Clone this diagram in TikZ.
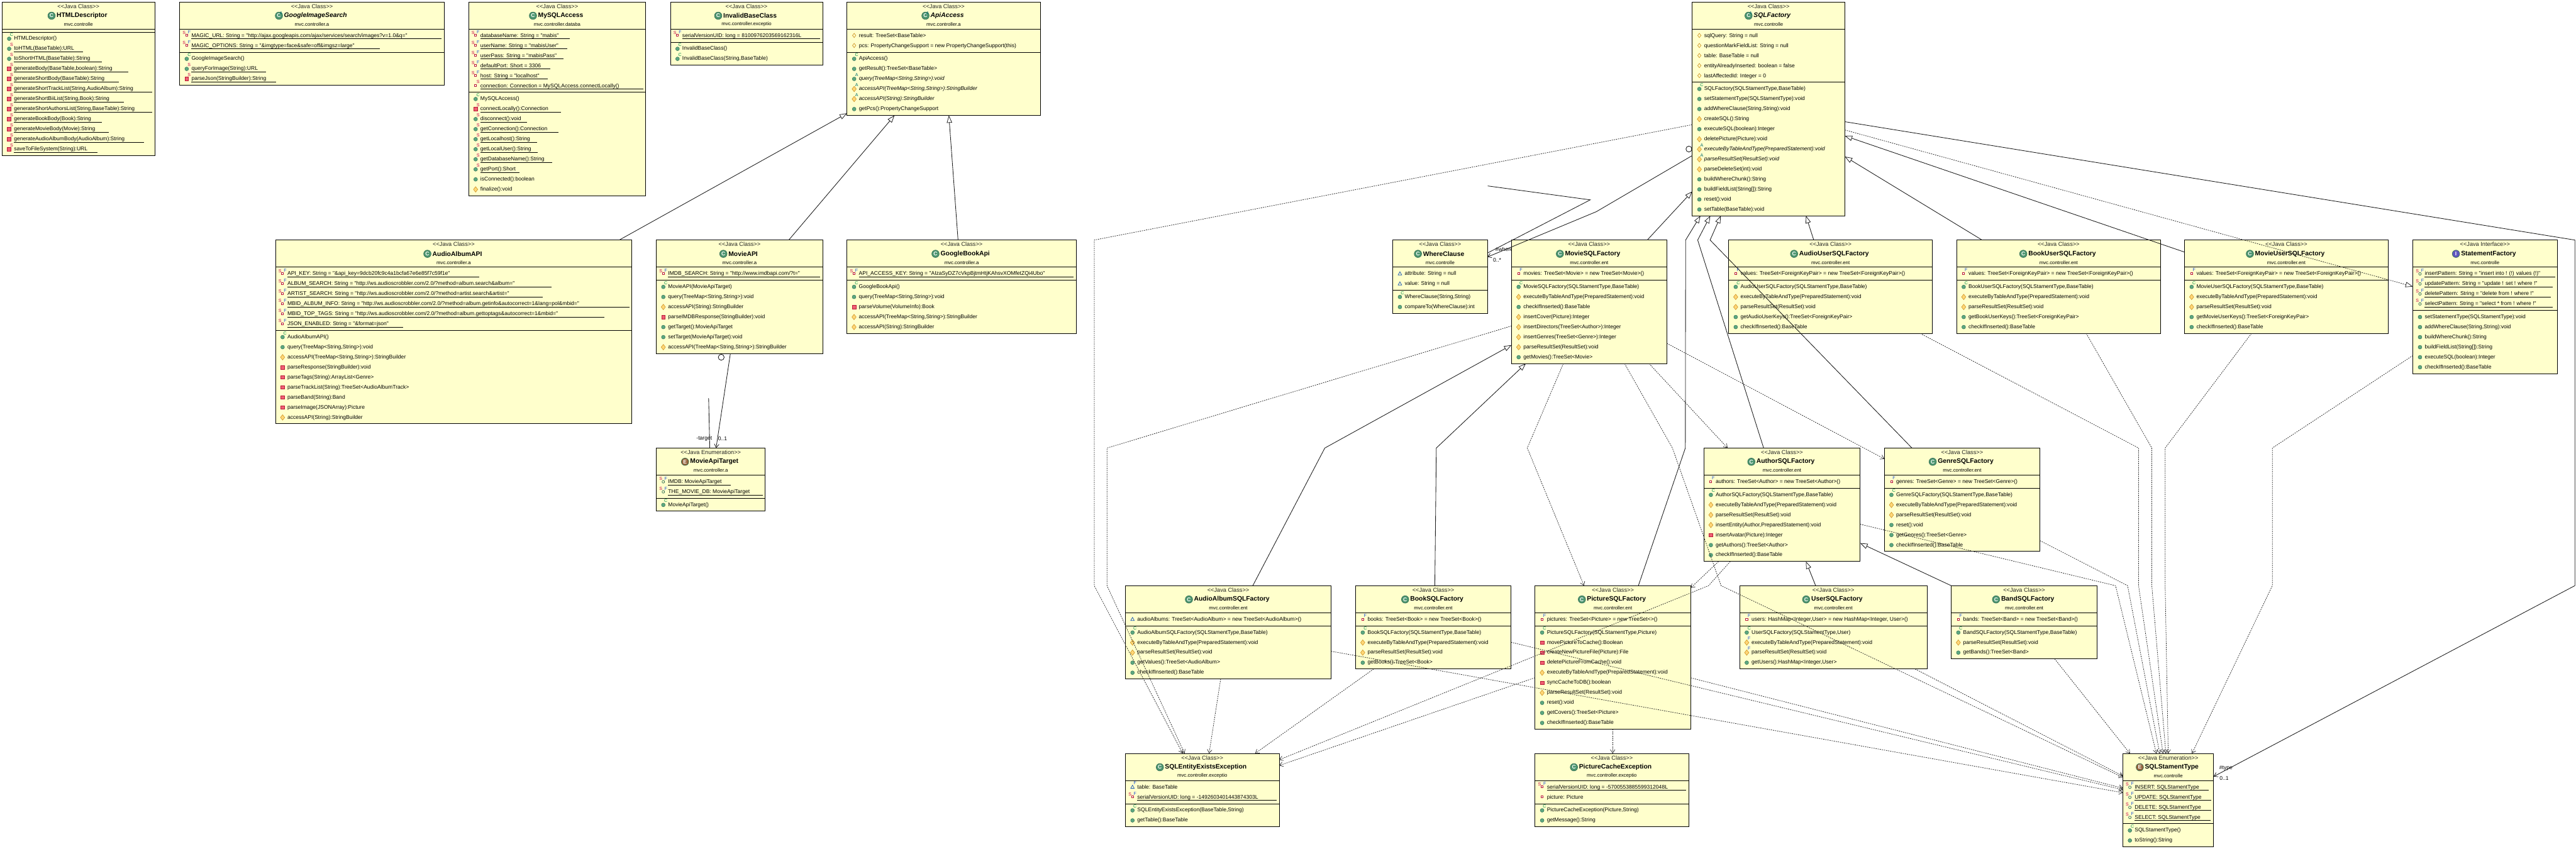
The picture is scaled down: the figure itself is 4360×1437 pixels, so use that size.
\documentclass[tikz,border=0pt]{standalone}
\usepackage{fontspec}
\newfontfamily\umlf{Liberation Sans}
\usetikzlibrary{arrows.meta}
\definecolor{ubg}{RGB}{255,255,204}
\definecolor{icgreen}{RGB}{78,150,112}
\definecolor{icgreenD}{RGB}{50,110,85}
\definecolor{icbrown}{RGB}{150,100,60}
\definecolor{icblue}{RGB}{95,85,190}
\definecolor{pubfill}{RGB}{92,168,128}
\definecolor{profill}{RGB}{255,215,120}
\definecolor{proline}{RGB}{205,145,30}
\definecolor{prifill}{RGB}{240,95,115}
\definecolor{priline}{RGB}{185,25,55}
\definecolor{pkline}{RGB}{30,90,180}
\definecolor{supS}{RGB}{200,0,70}
\definecolor{supF}{RGB}{30,80,210}
\definecolor{supC}{RGB}{0,140,70}
\definecolor{supA}{RGB}{0,110,110}
\tikzset{
  ubox/.style={draw=black,fill=ubg,line width=.9pt,inner sep=0pt,outer sep=0pt,anchor=north west},
  usec/.style={draw=black,line width=.9pt},
  ustereo/.style={inner sep=0pt,text=black!85,font=\umlf\fontsize{9.8}{11}\selectfont},
  utitle/.style={inner sep=0pt,font=\umlf\bfseries\fontsize{11}{12}\selectfont},
  upkg/.style={inner sep=0pt,font=\umlf\fontsize{8.3}{10}\selectfont},
  uicon/.style={circle,draw=icgreenD,line width=.7pt,inner sep=0pt,minimum size=12.5pt,text=white,font=\umlf\bfseries\fontsize{9}{9}\selectfont},
  rowtxt/.style={anchor=base west,inner sep=0pt,font=\umlf\fontsize{9.1}{10}\selectfont},
  supl/.style={inner sep=0pt,font=\umlf\fontsize{7.5}{8}\selectfont},
  lbl/.style={inner sep=0pt,font=\umlf\fontsize{9.1}{10}\selectfont},
  uline/.style={draw=black,line width=.9pt},
  gen/.style={draw=black!90,line width=.9pt,-{Triangle[open,length=12.5pt,width=9pt,line width=.8pt]}},
  genplain/.style={draw=black!90,line width=.9pt},
  dep/.style={draw=black!85,line width=.8pt,dash pattern=on 2pt off 1.6pt,-{Straight Barb[length=6pt,width=8pt,line width=.7pt]}},
  depr/.style={draw=black!85,line width=.8pt,dash pattern=on 2pt off 1.6pt,-{Triangle[open,length=12.5pt,width=9pt,line width=.8pt]}},
  assoc/.style={draw=black!90,line width=.9pt,-{Straight Barb[length=6pt,width=8pt,line width=.8pt]}},
  oball/.style={circle,draw=black,line width=.8pt,minimum size=10pt,inner sep=0pt}
}
\newcounter{rw}
% kinds of class
\newcommand\kdc{\def\uSt{<{}<Java Class>{}>}\def\uIcL{C}\def\uIcC{icgreen}\def\uTf{}\def\uAbs{0}}
\newcommand\kda{\def\uSt{<{}<Java Class>{}>}\def\uIcL{C}\def\uIcC{icgreen}\def\uTf{\itshape}\def\uAbs{1}}
\newcommand\kde{\def\uSt{<{}<Java Enumeration>{}>}\def\uIcL{E}\def\uIcC{icbrown}\def\uTf{}\def\uAbs{0}}
\newcommand\kdi{\def\uSt{<{}<Java Interface>{}>}\def\uIcL{I}\def\uIcC{icblue}\def\uTf{}\def\uAbs{0}}
% name x1 x2 top na nm kind title pkg
\newcommand\uclass[9]{%
  \csname kd#7\endcsname
  \pgfmathsetmacro\uHh{46+17*#5+5+17*#6+5}%
  \pgfmathsetmacro\uWw{#3-#2}%
  \pgfmathsetmacro\uCx{(#2+#3)/2}%
  \pgfmathsetmacro\uX{#2}%
  \pgfmathsetmacro\uY{#4+56.7}%
  \pgfmathsetmacro\uMY{#4+46+17*#5+5+10.7}%
  \pgfmathsetmacro\uSa{#4+46}%
  \pgfmathsetmacro\uSb{#4+46+17*#5+5}%
  \node[ubox,minimum width=\uWw pt,minimum height=\uHh pt] (#1) at (#2,#4) {};
  \draw[usec] (#1.west |- 0,\uSa) -- (#1.east |- 0,\uSa);
  \draw[usec] (#1.west |- 0,\uSb) -- (#1.east |- 0,\uSb);
  \node[ustereo] (#1st) at (\uCx,#4+7.4) {\uSt};
  \node[utitle] (#1ti) at (\uCx+6,#4+23.3) {\uTf #8};
  \node[uicon,fill=\uIcC] (#1ic) at ([xshift=-8.5pt]#1ti.west) {\uIcL};
  \ifnum\uAbs=1 \node[supl,text=supA] (#1ab) at ([xshift=-1pt,yshift=-1pt]#1ic.north east) {A};\fi
  \node[upkg] (#1pk) at (\uCx,#4+38) {#9};
}
\newcommand\msec{\let\uY\uMY}
\newcommand\nxt{\pgfmathsetmacro\uY{\uY+17}}
\newcommand\upS[2]{\node[supl,text=#1] (rw\arabic{rw}u) at (\uX+16.2,\uY-6.2) {#2};}
\newcommand\fS{\node[supl,text=supS] (rw\arabic{rw}s) at (\uX+7.6,\uY-4.6) {S};}
\newcommand\fF{\node[supl,text=supF] (rw\arabic{rw}f) at (\uX+16.4,\uY-5.2) {F};}
% icons
\newcommand\iCirc{\filldraw[fill=pubfill,draw=icgreenD,line width=.5pt] (\uX+12,\uY+.6) circle[radius=3.2pt];}
\newcommand\iDiam{\filldraw[fill=profill,draw=proline,line width=.6pt] (\uX+12,\uY+.6) ++(0,-4.6) -- ++(3.6,4.6) -- ++(-3.6,4.6) -- ++(-3.6,-4.6) -- cycle;}
\newcommand\iSq{\filldraw[fill=prifill,draw=priline,line width=.6pt] (\uX+9,\uY-2.4) rectangle (\uX+15,\uY+3.6);}
\newcommand\iSmSq{\filldraw[fill=white,draw=priline,line width=.9pt] (\uX+10.4,\uY-1.6) rectangle (\uX+13.6,\uY+1.6);}
\newcommand\iSmDiam{\filldraw[fill=ubg,draw=proline,line width=.7pt] (\uX+12,\uY) ++(0,-3.6) -- ++(2.8,3.6) -- ++(-2.8,3.6) -- ++(-2.8,-3.6) -- cycle;}
\newcommand\iTri{\filldraw[fill=ubg,draw=pkline,line width=.8pt] (\uX+12,\uY-3) -- (\uX+15,\uY+2.4) -- (\uX+9,\uY+2.4) -- cycle;}
\newcommand\iSmCirc{\filldraw[fill=ubg,draw=icgreenD,line width=.8pt] (\uX+12,\uY+.5) circle[radius=2.2pt];}
\newcommand\icpub{\iCirc}
\newcommand\icspub{\iCirc\upS{supS}{S}}
\newcommand\iccons{\iCirc\upS{supC}{C}}
\newcommand\icapub{\iCirc\upS{supA}{A}}
\newcommand\icpro{\iDiam}
\newcommand\icapro{\iDiam\upS{supA}{A}}
\newcommand\icproF{\iDiam\upS{supF}{F}}
\newcommand\icpri{\iSq}
\newcommand\icspri{\iSq\upS{supS}{S}}
\newcommand\icfpro{\iSmDiam}
\newcommand\icfpk{\iTri}
\newcommand\icfpkF{\iTri\upS{supF}{F}}
\newcommand\icfpri{\iSmSq}
\newcommand\icfprF{\iSmSq\upS{supF}{F}}
\newcommand\icfsF{\iSmSq\fS\fF}
\newcommand\icfpriS{\iSmSq\upS{supS}{S}}
\newcommand\icfgsF{\iSmCirc\fS\fF}
\newcommand\urow[2]{%
  \stepcounter{rw}%
  \csname ic#1\endcsname
  \node[rowtxt] (rw\arabic{rw}) at (\uX+20,\uY+3) {#2};
  \nxt}
\newcommand\uurow[3]{%
  \draw[uline] (\uX+20,\uY+5.7) -- (#1,\uY+5.7);
  \urow{#2}{#3}}
\begin{document}
\begin{tikzpicture}[x=1pt,y=-1pt]
\useasboundingbox (0,0) rectangle (4360,1437);
\fill[white] (0,0) rectangle (4360,1437);
\node[lbl,anchor=west] (lwhere) at (2531,422) {\#where};

\uclass{hd}{3.5}{262}{3.3}{0}{12}{c}{HTMLDescriptor}{mvc.controlle}
\msec
\urow{cons}{HTMLDescriptor()}
\uurow{140}{spub}{toHTML(BaseTable):URL}
\uurow{172.6}{spub}{toShortHTML(BaseTable):String}
\uurow{217.5}{spri}{generateBody(BaseTable,boolean):String}
\uurow{201}{spri}{generateShortBody(BaseTable):String}
\uurow{258}{spri}{generateShortTrackList(String,AudioAlbum):String}
\uurow{209.7}{spri}{generateShortBiiList(String,Book):String}
\uurow{258}{spri}{generateShortAuthorsList(String,BaseTable):String}
\uurow{172}{spri}{generateBookBody(Book):String}
\uurow{183.8}{spri}{generateMovieBody(Movie):String}
\uurow{243.4}{spri}{generateAudioAlbumBody(AudioAlbum):String}
\uurow{164.9}{spri}{saveToFileSystem(String):URL}

\uclass{gi}{304}{752}{3.3}{2}{3}{a}{GoogleImageSearch}{mvc.controller.a}
\uurow{747}{fsF}{MAGIC\_URL: String = "http://ajax.googleapis.com/ajax/services/search/images?v=1.0\&q="}
\uurow{643}{fsF}{MAGIC\_OPTIONS: String = "\&imgtype=face\&safe=off\&imgsz=large"}
\msec
\urow{cons}{GoogleImageSearch()}
\uurow{450.4}{spub}{queryForImage(String):URL}
\uurow{467.2}{spri}{parseJson(StringBuilder):String}

\uclass{my}{793}{1093}{3.3}{6}{10}{c}{MySQLAccess}{mvc.controller.databa}
\uurow{964.6}{fsF}{databaseName: String = "mabis"}
\uurow{960.4}{fsF}{userName: String = "mabisUser"}
\uurow{954}{fsF}{userPass: String = "mabisPass"}
\uurow{931}{fsF}{defaultPort: Short = 3306}
\uurow{927.4}{fsF}{host: String = "localhost"}
\uurow{1089.4}{fpriS}{connection: Connection = MySQLAccess.connectLocally()}
\msec
\urow{cons}{MySQLAccess()}
\uurow{949}{spri}{connectLocally():Connection}
\uurow{892.3}{spub}{disconnect():void}
\uurow{945}{spub}{getConnection():Connection}
\uurow{909}{spub}{getLocalhost():String}
\uurow{910.6}{spub}{getLocalUser():String}
\uurow{935}{spub}{getDatabaseName():String}
\uurow{879.7}{spub}{getPort():Short}
\urow{pub}{isConnected():boolean}
\urow{pro}{finalize():void}

\uclass{ib}{1134.7}{1392.3}{3.3}{1}{2}{c}{InvalidBaseClass}{mvc.controller.exceptio}
\uurow{1388.3}{fsF}{serialVersionUID: long = 8100976203569162316L}
\msec
\urow{cons}{InvalidBaseClass()}
\urow{cons}{InvalidBaseClass(String,BaseTable)}

\uclass{ap}{1433.7}{1760.7}{3.3}{2}{6}{a}{ApiAccess}{mvc.controller.a}
\urow{fpro}{result: TreeSet<BaseTable>}
\urow{fpro}{pcs: PropertyChangeSupport = new PropertyChangeSupport(this)}
\msec
\urow{cons}{ApiAccess()}
\urow{pub}{getResult():TreeSet<BaseTable>}
\urow{apub}{\itshape query(TreeMap<String,String>):void}
\urow{apro}{\itshape accessAPI(TreeMap<String,String>):StringBuilder}
\urow{apro}{\itshape accessAPI(String):StringBuilder}
\urow{pub}{getPcs():PropertyChangeSupport}

\uclass{aa}{466.3}{1069.5}{406.3}{6}{9}{c}{AudioAlbumAPI}{mvc.controller.a}
\uurow{811.4}{fsF}{API\_KEY: String = "\&api\_key=9dcb20fc9c4a1bcfa67e6e85f7c59f1e"}
\uurow{933.7}{fsF}{ALBUM\_SEARCH: String = "http://ws.audioscrobbler.com/2.0/?method=album.search\&album="}
\uurow{919}{fsF}{ARTIST\_SEARCH: String = "http://ws.audioscrobbler.com/2.0/?method=artist.search\&artist="}
\uurow{1065.4}{fsF}{MBID\_ALBUM\_INFO: String = "http://ws.audioscrobbler.com/2.0/?method=album.getinfo\&autocorrect=1\&lang=pol\&mbid="}
\uurow{1022.6}{fsF}{MBID\_TOP\_TAGS: String = "http://ws.audioscrobbler.com/2.0/?method=album.gettoptags\&autocorrect=1\&mbid="}
\uurow{682.4}{fsF}{JSON\_ENABLED: String = "\&format=json"}
\msec
\urow{cons}{AudioAlbumAPI()}
\urow{pub}{query(TreeMap<String,String>):void}
\urow{pro}{accessAPI(TreeMap<String,String>):StringBuilder}
\urow{pri}{parseResponse(StringBuilder):void}
\urow{pri}{parseTags(String):ArrayList<Genre>}
\urow{pri}{parseTrackList(String):TreeSet<AudioAlbumTrack>}
\urow{pri}{parseBand(String):Band}
\urow{pri}{parseImage(JSONArray):Picture}
\urow{pro}{accessAPI(String):StringBuilder}

\uclass{ma}{1110.7}{1392.8}{406.3}{1}{7}{c}{MovieAPI}{mvc.controller.a}
\uurow{1388.4}{fsF}{IMDB\_SEARCH: String = "http://www.imdbapi.com/?t="}
\msec
\urow{cons}{MovieAPI(MovieApiTarget)}
\urow{pub}{query(TreeMap<String,String>):void}
\urow{pro}{accessAPI(String):StringBuilder}
\urow{pri}{parseIMDBResponse(StringBuilder):void}
\urow{pub}{getTarget():MovieApiTarget}
\urow{pub}{setTarget(MovieApiTarget):void}
\urow{pro}{accessAPI(TreeMap<String,String>):StringBuilder}

\uclass{gb}{1433.5}{1821.7}{406.3}{1}{5}{c}{GoogleBookApi}{mvc.controller.a}
\uurow{1817.3}{fsF}{API\_ACCESS\_KEY: String = "AIzaSyDZ7cVkpBjtmHtjKAhsvXOMfetZQi4Ubo"}
\msec
\urow{cons}{GoogleBookApi()}
\urow{pub}{query(TreeMap<String,String>):void}
\urow{pri}{parseVolume(VolumeInfo):Book}
\urow{pro}{accessAPI(TreeMap<String,String>):StringBuilder}
\urow{pro}{accessAPI(String):StringBuilder}

\uclass{mt}{1110.7}{1295.3}{758.3}{2}{1}{e}{MovieApiTarget}{mvc.controller.a}
\uurow{1236.7}{fgsF}{IMDB: MovieApiTarget}
\uurow{1291.5}{fgsF}{THE\_MOVIE\_DB: MovieApiTarget}
\msec
\urow{cons}{MovieApiTarget()}

\uclass{sf}{2864.2}{3122.5}{3.3}{5}{13}{a}{SQLFactory}{mvc.controlle}
\urow{fpro}{sqlQuery: String = null}
\urow{fpro}{questionMarkFieldList: String = null}
\urow{fpro}{table: BaseTable = null}
\urow{fpro}{entityAlreadyInserted: boolean = false}
\urow{fpro}{lastAffectedId: Integer = 0}
\msec
\urow{cons}{SQLFactory(SQLStamentType,BaseTable)}
\urow{pub}{setStatementType(SQLStamentType):void}
\urow{pub}{addWhereClause(String,String):void}
\urow{pro}{createSQL():String}
\urow{pub}{executeSQL(boolean):Integer}
\urow{pro}{deletePicture(Picture):void}
\urow{apro}{\itshape executeByTableAndType(PreparedStatement):void}
\urow{apro}{\itshape parseResultSet(ResultSet):void}
\urow{pro}{parseDeleteSet(int):void}
\urow{pub}{buildWhereChunk():String}
\urow{pub}{buildFieldList(String[]):String}
\urow{pub}{reset():void}
\urow{pub}{setTable(BaseTable):void}

\uclass{wc}{2357.4}{2517.5}{406.3}{2}{2}{c}{WhereClause}{mvc.controlle}
\urow{fpk}{attribute: String = null}
\urow{fpk}{value: String = null}
\msec
\urow{cons}{WhereClause(String,String)}
\urow{pub}{compareTo(WhereClause):int}

\uclass{ms}{2558.3}{2821}{406.3}{1}{8}{c}{MovieSQLFactory}{mvc.controller.ent}
\urow{fprF}{movies: TreeSet<Movie> = new TreeSet<Movie>()}
\msec
\urow{cons}{MovieSQLFactory(SQLStamentType,BaseTable)}
\urow{pro}{executeByTableAndType(PreparedStatement):void}
\urow{pub}{checkIfInserted():BaseTable}
\urow{pro}{insertCover(Picture):Integer}
\urow{pro}{insertDirectors(TreeSet<Author>):Integer}
\urow{pro}{insertGenres(TreeSet<Genre>):Integer}
\urow{pro}{parseResultSet(ResultSet):void}
\urow{pub}{getMovies():TreeSet<Movie>}

\uclass{au}{2925.7}{3270.7}{406.3}{1}{5}{c}{AudioUserSQLFactory}{mvc.controller.ent}
\urow{fprF}{values: TreeSet<ForeignKeyPair> = new TreeSet<ForeignKeyPair>()}
\msec
\urow{cons}{AudioUserSQLFactory(SQLStamentType,BaseTable)}
\urow{pro}{executeByTableAndType(PreparedStatement):void}
\urow{pro}{parseResultSet(ResultSet):void}
\urow{pub}{getAudioUserKeys():TreeSet<ForeignKeyPair>}
\urow{pub}{checkIfInserted():BaseTable}

\uclass{bu}{3311.6}{3657}{406.3}{1}{5}{c}{BookUserSQLFactory}{mvc.controller.ent}
\urow{fprF}{values: TreeSet<ForeignKeyPair> = new TreeSet<ForeignKeyPair>()}
\msec
\urow{cons}{BookUserSQLFactory(SQLStamentType,BaseTable)}
\urow{pro}{executeByTableAndType(PreparedStatement):void}
\urow{pro}{parseResultSet(ResultSet):void}
\urow{pub}{getBookUserKeys():TreeSet<ForeignKeyPair>}
\urow{pub}{checkIfInserted():BaseTable}

\uclass{mu}{3697.4}{4042}{406.3}{1}{5}{c}{MovieUserSQLFactory}{mvc.controller.ent}
\urow{fprF}{values: TreeSet<ForeignKeyPair> = new TreeSet<ForeignKeyPair>()}
\msec
\urow{cons}{MovieUserSQLFactory(SQLStamentType,BaseTable)}
\urow{pro}{executeByTableAndType(PreparedStatement):void}
\urow{pro}{parseResultSet(ResultSet):void}
\urow{pub}{getMovieUserKeys():TreeSet<ForeignKeyPair>}
\urow{pub}{checkIfInserted():BaseTable}

\uclass{st}{4083.9}{4328}{406.3}{4}{6}{i}{StatementFactory}{mvc.controlle}
\uurow{4324.6}{fgsF}{insertPattern: String = "insert into ! (!) values (!)"}
\uurow{4321}{fgsF}{updatePattern: String = "update ! set ! where !"}
\uurow{4317.5}{fgsF}{deletePattern: String = "delete from ! where !"}
\uurow{4320.4}{fgsF}{selectPattern: String = "select * from ! where !"}
\msec
\urow{pub}{setStatementType(SQLStamentType):void}
\urow{pub}{addWhereClause(String,String):void}
\urow{pub}{buildWhereChunk():String}
\urow{pub}{buildFieldList(String[]):String}
\urow{pub}{executeSQL(boolean):Integer}
\urow{pub}{checkIfInserted():BaseTable}

\uclass{as}{2883.7}{3148.5}{758.3}{1}{7}{c}{AuthorSQLFactory}{mvc.controller.ent}
\urow{fprF}{authors: TreeSet<Author> = new TreeSet<Author>()}
\msec
\urow{cons}{AuthorSQLFactory(SQLStamentType,BaseTable)}
\urow{pro}{executeByTableAndType(PreparedStatement):void}
\urow{pro}{parseResultSet(ResultSet):void}
\urow{pro}{insertEntity(Author,PreparedStatement):void}
\urow{pri}{insertAvatar(Picture):Integer}
\urow{pub}{getAuthors():TreeSet<Author>}
\urow{pub}{checkIfInserted():BaseTable}

\uclass{ge}{3189.3}{3452.6}{758.3}{1}{6}{c}{GenreSQLFactory}{mvc.controller.ent}
\urow{fprF}{genres: TreeSet<Genre> = new TreeSet<Genre>()}
\msec
\urow{cons}{GenreSQLFactory(SQLStamentType,BaseTable)}
\urow{pro}{executeByTableAndType(PreparedStatement):void}
\urow{pro}{parseResultSet(ResultSet):void}
\urow{pub}{reset():void}
\urow{pub}{getGenres():TreeSet<Genre>}
\urow{pub}{checkIfInserted():BaseTable}

\uclass{ab}{1904.8}{2253}{991.3}{1}{5}{c}{AudioAlbumSQLFactory}{mvc.controller.ent}
\urow{fpk}{audioAlbums: TreeSet<AudioAlbum> = new TreeSet<AudioAlbum>()}
\msec
\urow{cons}{AudioAlbumSQLFactory(SQLStamentType,BaseTable)}
\urow{pro}{executeByTableAndType(PreparedStatement):void}
\urow{pro}{parseResultSet(ResultSet):void}
\urow{pub}{getValues():TreeSet<AudioAlbum>}
\urow{pub}{checkIfInserted():BaseTable}

\uclass{bk}{2294.5}{2557.3}{991.3}{1}{4}{c}{BookSQLFactory}{mvc.controller.ent}
\urow{fprF}{books: TreeSet<Book> = new TreeSet<Book>()}
\msec
\urow{cons}{BookSQLFactory(SQLStamentType,BaseTable)}
\urow{pro}{executeByTableAndType(PreparedStatement):void}
\urow{pro}{parseResultSet(ResultSet):void}
\urow{pub}{getBooks():TreeSet<Book>}

\uclass{pi}{2598.1}{2861.7}{991.3}{1}{10}{c}{PictureSQLFactory}{mvc.controller.ent}
\urow{fprF}{pictures: TreeSet<Picture> = new TreeSet<>()}
\msec
\urow{cons}{PictureSQLFactory(SQLStamentType,Picture)}
\urow{pri}{movePictureToCache():Boolean}
\urow{pri}{createNewPictureFile(Picture):File}
\urow{pri}{deletePictureFromCache():void}
\urow{pro}{executeByTableAndType(PreparedStatement):void}
\urow{pri}{syncCacheToDB():boolean}
\urow{pro}{parseResultSet(ResultSet):void}
\urow{pub}{reset():void}
\urow{pub}{getCovers():TreeSet<Picture>}
\urow{pub}{checkIfInserted():BaseTable}

\uclass{us}{2944.4}{3261.7}{991.3}{1}{4}{c}{UserSQLFactory}{mvc.controller.ent}
\urow{fprF}{users: HashMap<Integer,User> = new HashMap<Integer, User>()}
\msec
\urow{cons}{UserSQLFactory(SQLStamentType,User)}
\urow{proF}{executeByTableAndType(PreparedStatement):void}
\urow{proF}{parseResultSet(ResultSet):void}
\urow{pub}{getUsers():HashMap<Integer,User>}

\uclass{bd}{3302.5}{3549.5}{991.3}{1}{3}{c}{BandSQLFactory}{mvc.controller.ent}
\urow{fprF}{bands: TreeSet<Band> = new TreeSet<Band>()}
\msec
\urow{cons}{BandSQLFactory(SQLStamentType,BaseTable)}
\urow{pro}{parseResultSet(ResultSet):void}
\urow{pub}{getBands():TreeSet<Band>}

\uclass{ee}{1904.8}{2165}{1275.3}{2}{2}{c}{SQLEntityExistsException}{mvc.controller.exceptio}
\urow{fpkF}{table: BaseTable}
\uurow{2161.2}{fsF}{serialVersionUID: long = -1492603401443874303L}
\msec
\urow{cons}{SQLEntityExistsException(BaseTable,String)}
\urow{pub}{getTable():BaseTable}

\uclass{pc}{2598.1}{2858}{1275.3}{2}{2}{c}{PictureCacheException}{mvc.controller.exceptio}
\uurow{2854}{fsF}{serialVersionUID: long = -5700553885599312048L}
\urow{fpri}{picture: Picture}
\msec
\urow{cons}{PictureCacheException(Picture,String)}
\urow{pub}{getMessage():String}

\uclass{ty}{3592.9}{3746.7}{1275.3}{4}{2}{e}{SQLStamentType}{mvc.controlle}
\uurow{3738}{fgsF}{INSERT: SQLStamentType}
\uurow{3742.7}{fgsF}{UPDATE: SQLStamentType}
\uurow{3742.7}{fgsF}{DELETE: SQLStamentType}
\uurow{3741.5}{fgsF}{SELECT: SQLStamentType}
\msec
\urow{cons}{SQLStamentType()}
\urow{pub}{toString():String}

% ---------- generalisations: API group
\draw[gen] (1048,0 |- aa.north) -- (ap.west |- 0,191.7);
\draw[gen] (1335,0 |- ma.north) -- (1514,0 |- ap.south);
\draw[gen] (1621.5,0 |- gb.north) -- (1606,0 |- ap.south);
% MovieAPI -> target
\node[oball] (ob1) at (1220.7,604.7) {};
\coordinate (free1) at (1199.4,674);
\draw[assoc] (1236.2,0 |- ma.south) -- (1212,0 |- mt.north);
\draw[genplain] (free1) -- (1201.3,0 |- mt.north);
\node[lbl] (ltarget) at (1192,742.7) {-target};
\node[lbl] (lt01) at (1223,742.7) {0..1};
% SQLFactory -> WhereClause
\node[oball] (ob2) at (2858.5,252.3) {};
\coordinate (free2) at (2518,314.7);
\draw[assoc] (sf.west |- 0,263.3) -- (2701.8,358.3) -- (wc.east |- 0,435);
\draw[genplain] (free2) -- (2691.5,338.3) -- (wc.east |- 0,428.3);
\node[lbl] (lw0) at (2534,439.7) {0..*};
% generalisations into SQLFactory
\draw[gen] (mu.west |- 0,426.7) -- (sf.east |- 0,230);
\draw[gen] (3354.8,0 |- bu.north) -- (sf.east |- 0,265);
\draw[gen] (3069.8,0 |- au.north) -- (3056.6,0 |- sf.south);
\draw[gen] (2788,0 |- ms.north) -- (sf.west |- 0,324);
\draw[gen] (2773,0 |- pi.north) -- (2852.5,758.3) -- (2853,406.3) -- (2878,0 |- sf.south);
\draw[gen] (2985,0 |- as.north) -- (2873.4,406.3) -- (2894.7,0 |- sf.south);
\draw[gen] (3236,0 |- ge.north) -- (2894.4,406.3) -- (2912.5,0 |- sf.south);
% generalisations into MovieSQLFactory
\draw[gen] (2120.4,0 |- ab.north) -- (2242.3,758.3) -- (ms.west |- 0,584);
\draw[gen] (2428.5,0 |- bk.north) -- (2431,758.3) -- (2582.5,0 |- ms.south);
% generalisations into AuthorSQLFactory
\draw[gen] (3073,0 |- us.north) -- (3056.6,0 |- as.south);
\draw[gen] (bd.north west) -- (as.east |- 0,919.3);
% realisation
\draw[depr] (sf.east |- 0,220) -- (st.west |- 0,485);
% SQLFactory -> type
\draw[assoc] (sf.east |- 0,206) -- (4358,406.3) -- (4358,991.3) -- (ty.east |- 0,1314.3);
\node[lbl] (ltype) at (3767.4,1300) {\#type};
\node[lbl] (lty01) at (3764.5,1317.7) {0..1};
% dependencies to SQLEntityExistsException
\draw[dep] (sf.west |- 0,211) -- (1852,406.3) -- (1852,991.3) -- (2001.8,0 |- ee.north);
\draw[dep] (ms.west |- 0,551.7) -- (1873.6,758.3) -- (1873.6,991.3) -- (2005,0 |- ee.north);
\draw[dep] (2066,0 |- ab.south) -- (2046.4,0 |- ee.north);
\draw[dep] (2325,0 |- bk.south) -- (2124.3,0 |- ee.north);
\draw[dep] (2928.6,0 |- as.south) -- (2891.8,991.3) -- (ee.east |- 0,1286);
\draw[dep] (pi.west |- 0,1147) -- (ee.east |- 0,1295.7);
% PictureCacheException
\draw[dep] (2729.5,0 |- pi.south) -- (2729.5,0 |- pc.north);
% MovieSQL dependencies
\draw[dep] (2646,0 |- ms.south) -- (2585,758.3) -- (2681,0 |- pi.north);
\draw[dep] (2791,0 |- ms.south) -- (2924,0 |- as.north);
\draw[dep] (ms.east |- 0,581) -- (ge.west |- 0,776.7);
\draw[dep] (2908.7,0 |- as.south) -- (pi.east |- 0,995);
% to SQLStamentType
\draw[dep] (3477.6,0 |- bd.south) -- (3605,0 |- ty.north);
\draw[dep] (as.east |- 0,887.3) -- (3580.6,991.3) -- (3649.7,0 |- ty.north);
\draw[dep] (ge.east |- 0,915) -- (3601,991.3) -- (3655.4,0 |- ty.north);
\draw[dep] (3250,0 |- au.south) -- (3619.6,758.3) -- (3619.6,991.3) -- (3661,0 |- ty.north);
\draw[dep] (3531,0 |- bu.south) -- (3642,758.3) -- (3642,991.3) -- (3665.8,0 |- ty.north);
\draw[dep] (3810.7,0 |- mu.south) -- (3664.6,758.3) -- (3664.6,991.3) -- (3669.8,0 |- ty.north);
\draw[dep] (st.west |- 0,601.7) -- (3846,758.3) -- (3846,991.3) -- (3710,0 |- ty.north);
\draw[dep] (3241.3,0 |- us.south) -- (ty.west |- 0,1313.3);
\draw[dep] (2749.6,0 |- ms.south) -- (2830.6,758.3) -- (2913,991.3) -- (ty.west |- 0,1315.7);
\draw[dep] (pi.east |- 0,1147.3) -- (ty.west |- 0,1334);
\draw[dep] (bk.east |- 0,1087) -- (ty.west |- 0,1336.7);
\draw[dep] (ab.east |- 0,1102.3) -- (ty.west |- 0,1341.7);
\end{tikzpicture}
\end{document}
